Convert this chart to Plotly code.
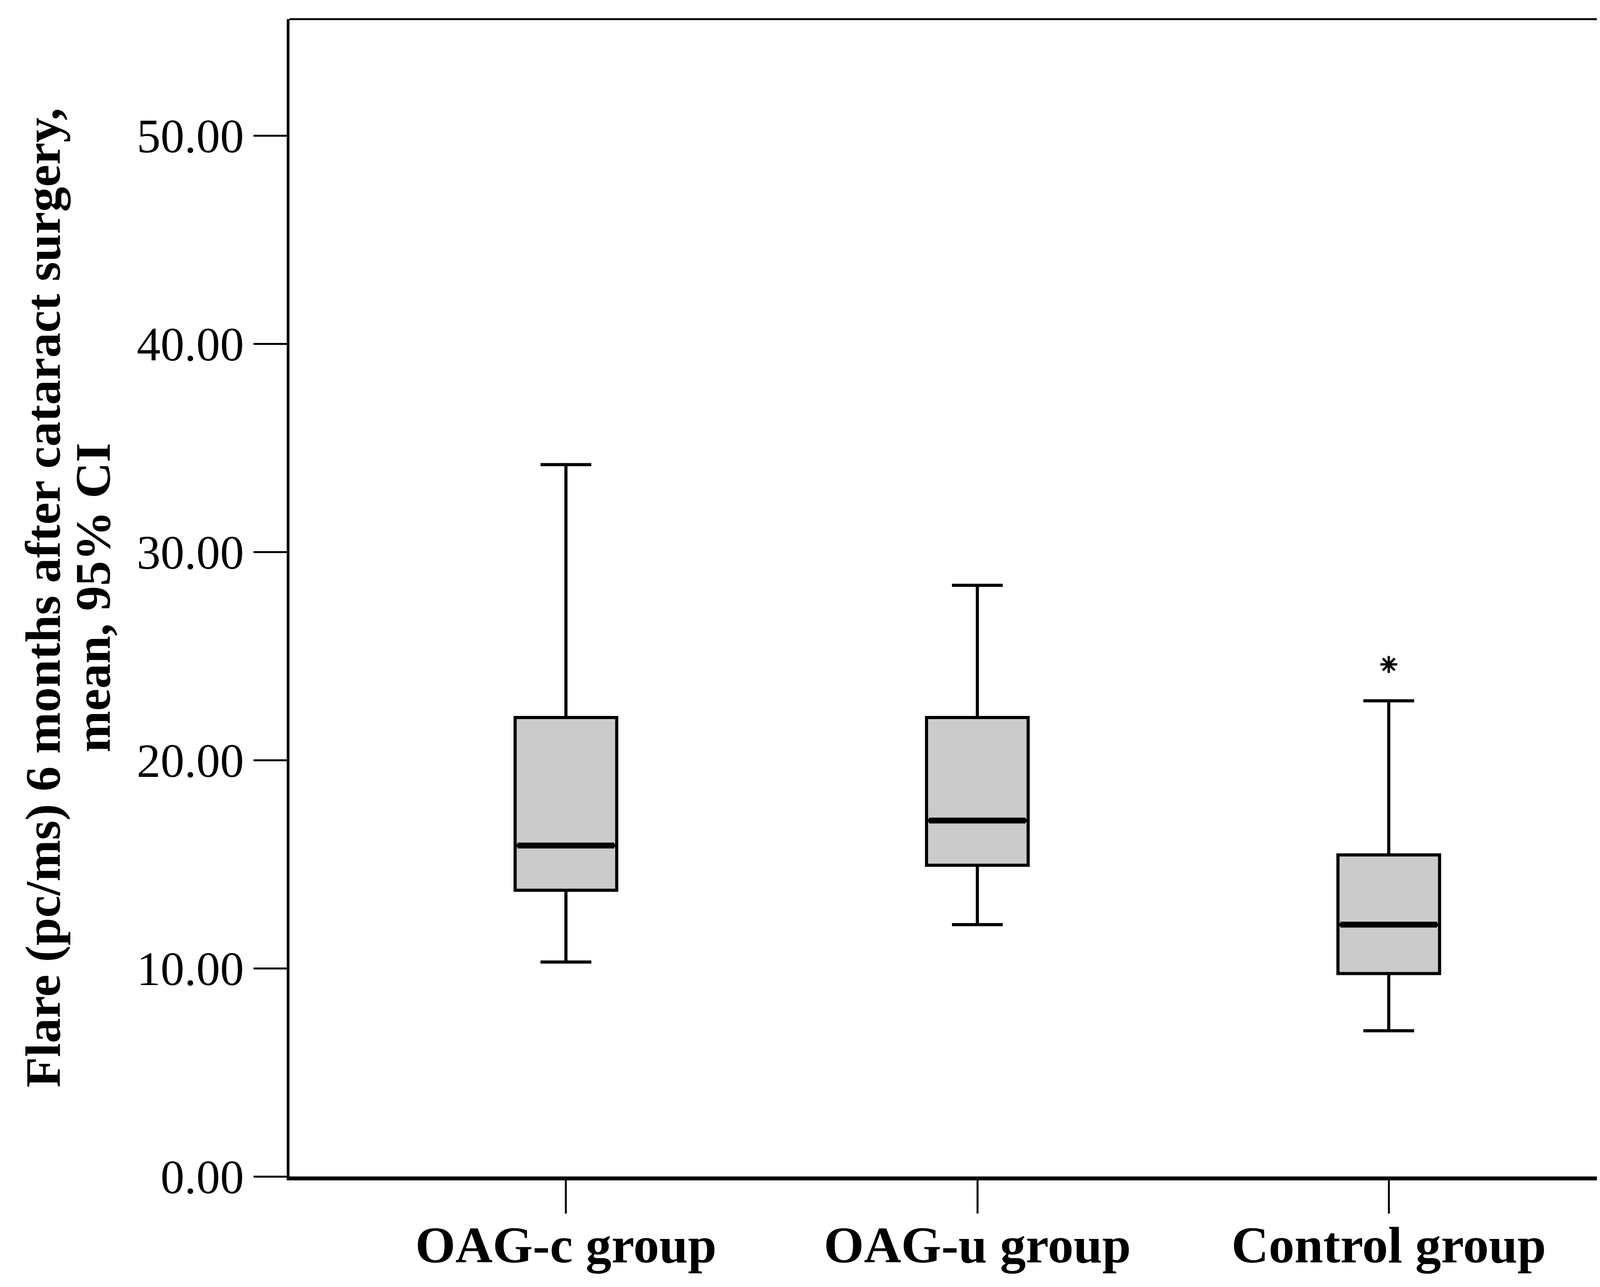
import plotly.graph_objects as go

# ---- data ----
groups = ["OAG-c group", "OAG-u group", "Control group"]
lower_whisker = [10.3, 12.1, 7.0]
q1 = [13.75, 14.95, 9.75]
median = [15.9, 17.1, 12.1]
q3 = [22.05, 22.05, 15.45]
upper_whisker = [34.2, 28.4, 22.85]

outlier_groups = ["Control group"]
outlier_values = [24.6]

y_tick_values = [0, 10, 20, 30, 40, 50]
y_tick_labels = ["0.00", "10.00", "20.00", "30.00", "40.00", "50.00"]

title_line1 = "Flare (pc/ms) 6 months after cataract surgery,"
title_line2 = "mean, 95% CI"

# ---- styling ----
BOX_W = 0.247
FONT = "Liberation Serif"
xpos = list(range(len(groups)))

fig = go.Figure()

fig.add_trace(go.Box(
    x=xpos,
    q1=q1, median=median, q3=q3,
    lowerfence=lower_whisker, upperfence=upper_whisker,
    width=BOX_W, whiskerwidth=0.5,
    fillcolor="#cbcbcb",
    line=dict(color="black", width=8),
    boxpoints=False,
    showlegend=False,
    hoverinfo="skip",
))

# thicker median lines (as in the original)
mx, my = [], []
for i, m in zip(xpos, median):
    mx += [i - BOX_W / 2 + 0.006, i + BOX_W / 2 - 0.006, None]
    my += [m, m, None]
fig.add_trace(go.Scatter(
    x=mx, y=my, mode="lines",
    line=dict(color="black", width=15),
    showlegend=False, hoverinfo="skip",
))

# outlier
fig.add_trace(go.Scatter(
    x=[groups.index(g) for g in outlier_groups],
    y=outlier_values,
    mode="markers",
    marker=dict(symbol="asterisk-open", size=36,
                line=dict(color="black", width=6), color="black"),
    showlegend=False, hoverinfo="skip",
))

fig.update_layout(
    width=4290, height=3295,
    margin=dict(l=733, r=35, t=41, b=291),
    paper_bgcolor="white",
    plot_bgcolor="white",
    font=dict(family=FONT, color="black"),
    xaxis=dict(
        range=[-0.672, 2.672],
        tickmode="array", tickvals=xpos, ticktext=groups,
        tickfont=dict(family=FONT, size=132, color="black", weight="bold"),
        ticks="outside", ticklen=85, tickwidth=5, tickcolor="black",
        ticklabelstandoff=-33,
        showline=True, linewidth=10, linecolor="black", mirror=False,
        showgrid=False, zeroline=False,
    ),
    yaxis=dict(
        range=[0, 55.6],
        tickmode="array", tickvals=y_tick_values, ticktext=y_tick_labels,
        tickfont=dict(family=FONT, size=122, color="black"),
        ticks="outside", ticklen=85, tickwidth=5, tickcolor="black",
        showline=True, linewidth=7, linecolor="black", mirror=False,
        showgrid=False, zeroline=False,
    ),
    shapes=[
        dict(type="line", xref="paper", yref="paper", x0=0, x1=1, y0=1, y1=1,
             line=dict(color="black", width=5)),
        dict(type="line", xref="paper", yref="paper", x0=1, x1=1, y0=0, y1=1,
             line=dict(color="black", width=5)),
    ],
    annotations=[
        dict(text=title_line1, xref="paper", yref="paper",
             x=-0.1792, y=0.5, xanchor="center", yanchor="middle",
             textangle=-90, showarrow=False,
             font=dict(family=FONT, size=128, color="black", weight="bold")),
        dict(text=title_line2, xref="paper", yref="paper",
             x=-0.1431, y=0.5, xanchor="center", yanchor="middle",
             textangle=-90, showarrow=False,
             font=dict(family=FONT, size=128, color="black", weight="bold")),
    ],
)

fig.write_html("out.html")
